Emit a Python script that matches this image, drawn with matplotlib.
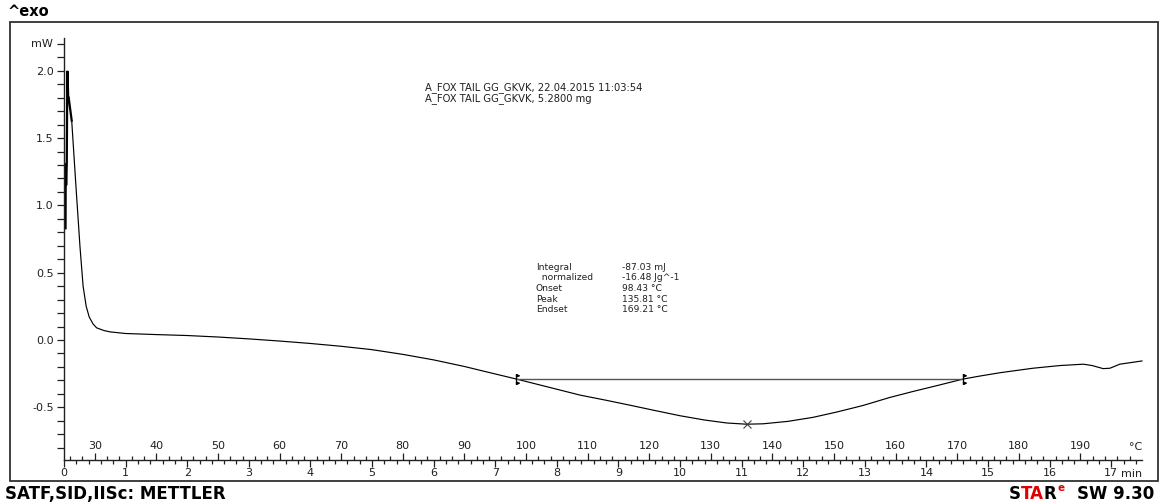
import matplotlib
matplotlib.use("Agg")
import matplotlib.pyplot as plt
from matplotlib.patches import Rectangle
from matplotlib.path import Path
from matplotlib.transforms import ScaledTranslation
from matplotlib.ticker import MultipleLocator, FixedLocator, FuncFormatter

# ---- measured DSC trace: time (min) vs heat flow (mW) ----
time_min = [0.025, 0.028, 0.035, 0.045, 0.054, 0.06, 0.068, 0.076, 0.125, 0.2, 0.26,
            0.31, 0.36, 0.41, 0.47, 0.53, 0.65, 0.75, 1.0, 1.5, 2.0, 2.5, 3.0,
            3.5, 4.0, 4.5, 5.0, 5.5, 6.0, 6.5, 6.75, 7.34, 7.8, 8.38, 8.8,
            9.19, 9.6, 10.0, 10.4, 10.76, 11.08, 11.35, 11.75, 12.16, 12.55,
            12.97, 13.4, 13.78, 14.2, 14.6, 14.87, 15.2, 15.73, 16.17, 16.55,
            16.69, 16.87, 16.98, 17.14, 17.5]
heat_flow_mw = [0.83, 1.31, 1.15, 1.31, 2.0, 1.95, 1.8, 1.8, 1.63, 1.1, 0.69,
                0.40, 0.25, 0.17, 0.12, 0.09, 0.07, 0.06, 0.048, 0.04, 0.033, 0.022, 0.008,
                -0.008, -0.026, -0.047, -0.072, -0.107, -0.148, -0.197, -0.225, -0.29, -0.343, -0.41, -0.448,
                -0.485, -0.525, -0.563, -0.595, -0.617, -0.626, -0.623, -0.605, -0.575, -0.535,
                -0.487, -0.428, -0.383, -0.336, -0.29, -0.268, -0.243, -0.21, -0.19, -0.18,
                -0.19, -0.213, -0.21, -0.18, -0.156]

# evaluation results
onset_t, endset_t = 7.34, 14.6      # integration limits (min)
baseline_mw = -0.29
peak_t, peak_mw = 11.08, -0.626

header_lines = ["A_FOX TAIL GG_GKVK, 22.04.2015 11:03:54",
                "A_FOX TAIL GG_GKVK, 5.2800 mg"]
result_names = ["Integral", "  normalized", "Onset", "Peak", "Endset"]
result_values = ["-87.03 mJ", "-16.48 Jg^-1", "98.43 \u00b0C", "135.81 \u00b0C", "169.21 \u00b0C"]

start_temp_c, rate_c_per_min = 25.0, 10.0
temp_ticks = list(range(30, 200, 10))

W, H = 1161, 504
fig = plt.figure(figsize=(W / 100, H / 100), dpi=100)
fig.patch.set_facecolor("white")
INK = "#202020"
FS_TICK = 8.0

# outer frame
fig.add_artist(Rectangle((10 / W, 1 - 481 / H), 1148 / W, 459 / H,
                         transform=fig.transFigure, fill=False,
                         edgecolor="#303030", linewidth=1.3))

ax = fig.add_axes([64 / W, 1 - 460 / H, (1142 - 64) / W, (460 - 38) / H])
ax.set_xlim(0, 17.5)
ax.set_ylim(-0.892, 2.244)
ax.patch.set_alpha(0)
for s in ("top", "right"):
    ax.spines[s].set_visible(False)
for s in ("left", "bottom"):
    ax.spines[s].set_color(INK)
    ax.spines[s].set_linewidth(1.0)

# y axis: heat flow
ax.yaxis.set_major_locator(FixedLocator([-0.5, 0.0, 0.5, 1.0, 1.5, 2.0]))
ax.yaxis.set_minor_locator(MultipleLocator(0.1))
ax.yaxis.set_major_formatter(FuncFormatter(lambda v, p: f"{v:.1f}"))
ax.tick_params(axis="y", which="both", direction="out", length=5, width=0.9,
               color=INK, pad=2.5, labelsize=FS_TICK, labelcolor=INK)
ax.text(-0.12, 2.2, "mW", ha="right", va="center", color=INK,
        family="DejaVu Sans", size=FS_TICK,
        transform=ax.transData + ScaledTranslation(-3 / 72, 0, fig.dpi_scale_trans))

# x axis: time (ticks downward)
ax.xaxis.set_major_locator(MultipleLocator(1))
ax.xaxis.set_minor_locator(FixedLocator([i * 0.2 for i in range(1, 88) if i % 5]))
ax.xaxis.set_major_formatter(FuncFormatter(lambda v, p: f"{v:.0f}"))
ax.tick_params(axis="x", which="major", direction="out", length=5, width=0.9,
               color=INK, pad=1.0, labelsize=FS_TICK, labelcolor=INK)
ax.tick_params(axis="x", which="minor", direction="out", length=3, width=0.9,
               color=INK)
ax.text(17.16, -0.892, "min", ha="left", va="top", color=INK,
        family="DejaVu Sans", size=FS_TICK,
        transform=ax.transData + ScaledTranslation(0, -6.6 / 72, fig.dpi_scale_trans))

# temperature axis on the same line (ticks upward, labels above)
tax = ax.secondary_xaxis("bottom",
                         functions=(lambda t: start_temp_c + rate_c_per_min * t,
                                    lambda T: (T - start_temp_c) / rate_c_per_min))
tax.spines["bottom"].set_visible(False)
tax.xaxis.set_major_locator(FixedLocator(temp_ticks))
tax.xaxis.set_minor_locator(FixedLocator([T for T in range(26, 200, 2) if T % 10]))
tax.xaxis.set_major_formatter(FuncFormatter(lambda v, p: f"{v:.0f}"))
tax.tick_params(axis="x", which="major", direction="in", length=5, width=0.9,
                color=INK, pad=-13.5, labelsize=FS_TICK, labelcolor=INK)
tax.tick_params(axis="x", which="minor", direction="in", length=3, width=0.9,
                color=INK)
ax.text(17.39, -0.892, "\u00b0C", ha="center", va="bottom", color=INK,
        family="DejaVu Sans", size=FS_TICK,
        transform=ax.transData + ScaledTranslation(0, 5.5 / 72, fig.dpi_scale_trans))

# the trace
ax.plot(time_min[:9], heat_flow_mw[:9], color="black", lw=1.6, solid_joinstyle="miter", clip_on=False)
ax.plot(time_min[8:], heat_flow_mw[8:], color="black", lw=0.85, clip_on=False)

# integration baseline and limit markers
ax.plot([onset_t, endset_t], [baseline_mw, baseline_mw], color="#555555", lw=1.0)
limit_marker = Path(
    [(0, -1), (0, 1), (0, 0.5), (0.55, 0.7), (0, 0.95), (0, 0.5),
     (0, -0.5), (0.55, -0.7), (0, -0.95), (0, -0.5)],
    [Path.MOVETO, Path.LINETO, Path.MOVETO, Path.LINETO, Path.LINETO, Path.CLOSEPOLY,
     Path.MOVETO, Path.LINETO, Path.LINETO, Path.CLOSEPOLY])
ax.plot([onset_t, endset_t], [baseline_mw, baseline_mw], linestyle="none",
        marker=limit_marker, markersize=7.5, color="black", markerfacecolor="black", mew=0.9)
ax.plot([peak_t], [peak_mw], marker="x", markersize=6, color="#404040", mew=0.8, linestyle="none")

# sample header
for i, line in enumerate(header_lines):
    fig.text(425 / W, 1 - (87.2 + i * 11.6) / H, line, ha="left", va="center",
             family="DejaVu Sans", size=7.2, color=INK)
# evaluation results block
for i, (n, v) in enumerate(zip(result_names, result_values)):
    y = 1 - (267 + i * 10.7) / H
    fig.text(536 / W, y, n, ha="left", va="center", family="DejaVu Sans", size=6.6, color=INK)
    fig.text(622 / W, y, v, ha="left", va="center", family="DejaVu Sans", size=6.6, color=INK)

fig.text(8 / W, 1 - 11 / H, "^exo", ha="left", va="center", family="DejaVu Sans",
         weight="bold", size=10.5, color="black")
fig.text(5 / W, 1 - 494 / H, "SATF,SID,IISc: METTLER", ha="left", va="center",
         family="DejaVu Sans", weight="bold", size=12, color="black")

# software tag
tag = dict(family="DejaVu Sans", weight="bold", size=12, va="center")
yb = 1 - 494 / H
r = fig.canvas.get_renderer()
ver = fig.text(1154 / W, yb, "SW 9.30", ha="right", color="black", **tag)
x = ver.get_window_extent(r).x0 / W - 12 / W
sup = fig.text(x, yb + 6 / H, "e", ha="right", color="#e00000",
               family="DejaVu Sans", weight="bold", size=7.5, va="center")
x = sup.get_window_extent(r).x0 / W - 1 / W
for s, c in [("R", "black"), ("TA", "#e00000"), ("S", "black")]:
    t = fig.text(x, yb, s, ha="right", color=c, **tag)
    x = t.get_window_extent(r).x0 / W

fig.savefig("out.png", dpi=100, facecolor="white")
